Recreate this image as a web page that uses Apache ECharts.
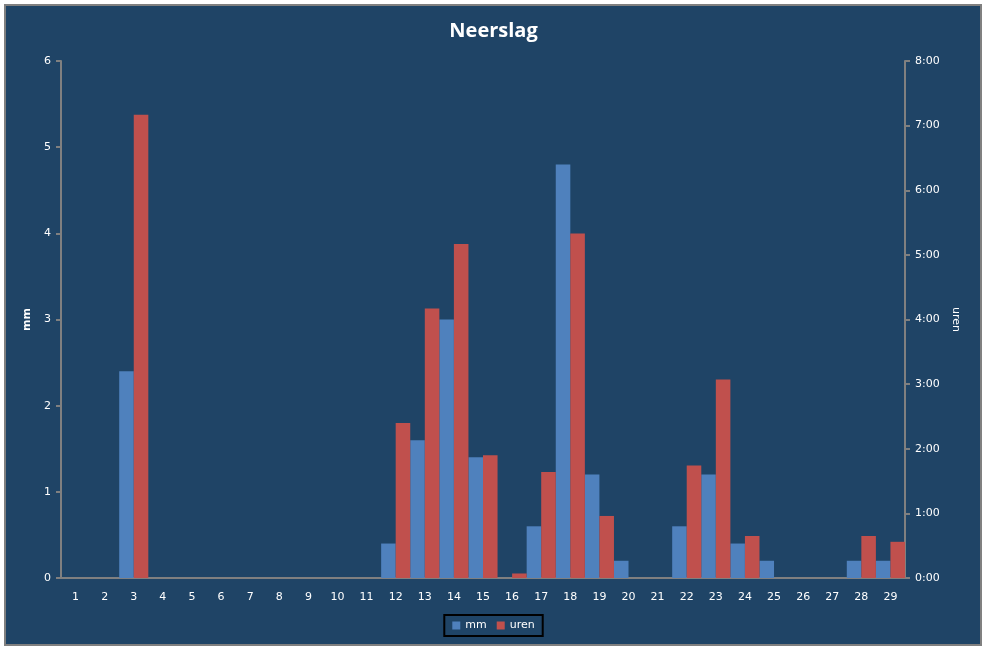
<!DOCTYPE html>
<html>
<head>
<meta charset="utf-8">
<script src="https://cdn.jsdelivr.net/npm/echarts@6/dist/echarts.min.js"></script>
<style>
  html, body { margin: 0; padding: 0; background: #ffffff; }
  #chart { width: 987px; height: 648px; }
</style>
</head>
<body>
<div id="chart"></div>
<script>
// dagen van de maand
const days = ['1', '2', '3', '4', '5', '6', '7', '8', '9', '10', '11', '12', '13', '14', '15',
    '16', '17', '18', '19', '20', '21', '22', '23', '24', '25', '26', '27', '28', '29']

// neerslag in mm
const mm = [0, 0, 2.4, 0, 0, 0, 0, 0, 0, 0, 0, 0.4, 1.6, 3.0, 1.4,
    0, 0.6, 4.8, 1.2, 0.2, 0, 0.6, 1.2, 0.4, 0.2, 0, 0, 0.2, 0.2]

// duur in uren (decimaal)
const uren = [0, 0, 7.17, 0, 0, 0, 0, 0, 0, 0, 0, 2.4, 4.17, 5.17, 1.9,
    0.07, 1.64, 5.33, 0.96, 0, 0, 1.74, 3.07, 0.65, 0, 0, 0, 0.65, 0.56]

const axisColor = '#808080'
const labelFont = { color: '#ffffff', fontSize: 11, fontFamily: 'DejaVu Sans' }

const myChart = echarts.init(document.getElementById('chart'))

const option = {
    animation: false,
    graphic: [
        {
            type: 'rect',
            z: -10,
            shape: { x: 5, y: 5, width: 976, height: 640 },
            style: { fill: '#1F4466', stroke: axisColor, lineWidth: 2 }
        }
    ],
    title: {
        text: 'Neerslag',
        left: 'center',
        top: 16,
        textStyle: { color: '#ffffff', fontSize: 20, fontWeight: 'bold', fontFamily: 'Open Sans' }
    },
    legend: {
        bottom: 12,
        left: 'center',
        borderColor: '#000000',
        borderWidth: 2,
        padding: [5, 8],
        itemWidth: 8,
        itemHeight: 8,
        itemGap: 10,
        textStyle: labelFont,
        data: [
            { name: 'mm', icon: 'rect' },
            { name: 'uren', icon: 'rect' }
        ]
    },
    grid: {
        left: 61,
        right: 82,
        top: 61,
        bottom: 70
    },
    xAxis: {
        type: 'category',
        data: days,
        axisLine: { lineStyle: { color: axisColor, width: 2 } },
        axisTick: { lineStyle: { color: axisColor, width: 2 }, length: 5 },
        axisLabel: { ...labelFont, margin: 14 }
    },
    yAxis: [
        {
            type: 'value',
            name: 'mm',
            nameLocation: 'middle',
            nameGap: 24,
            nameTextStyle: { color: '#ffffff', fontSize: 11, fontWeight: 'bold', fontFamily: 'DejaVu Sans' },
            min: 0,
            max: 6,
            interval: 1,
            splitLine: { show: false },
            axisLine: { show: true, lineStyle: { color: axisColor, width: 2 } },
            axisTick: { show: true, lineStyle: { color: axisColor, width: 2 }, length: 5 },
            axisLabel: { ...labelFont, margin: 10 }
        },
        {
            type: 'value',
            name: 'uren',
            nameLocation: 'middle',
            nameGap: 41,
            nameRotate: -90,
            nameTextStyle: { color: '#ffffff', fontSize: 11, fontFamily: 'DejaVu Sans' },
            position: 'right',
            min: 0,
            max: 8,
            interval: 1,
            splitLine: { show: false },
            axisLine: { show: true, lineStyle: { color: axisColor, width: 2 } },
            axisTick: { show: true, lineStyle: { color: axisColor, width: 2 }, length: 5 },
            axisLabel: { ...labelFont, margin: 10, formatter: (v) => v + ':00' }
        }
    ],
    series: [
        {
            name: 'mm',
            type: 'bar',
            yAxisIndex: 0,
            data: mm,
            barGap: '0%',
            barCategoryGap: '0%',
            itemStyle: { color: '#4F81BD', borderWidth: 0 }
        },
        {
            name: 'uren',
            type: 'bar',
            yAxisIndex: 1,
            data: uren,
            barGap: '0%',
            barCategoryGap: '0%',
            itemStyle: { color: '#C0504D', borderWidth: 0 }
        }
    ]
}

option && myChart.setOption(option)
</script>
</body>
</html>
